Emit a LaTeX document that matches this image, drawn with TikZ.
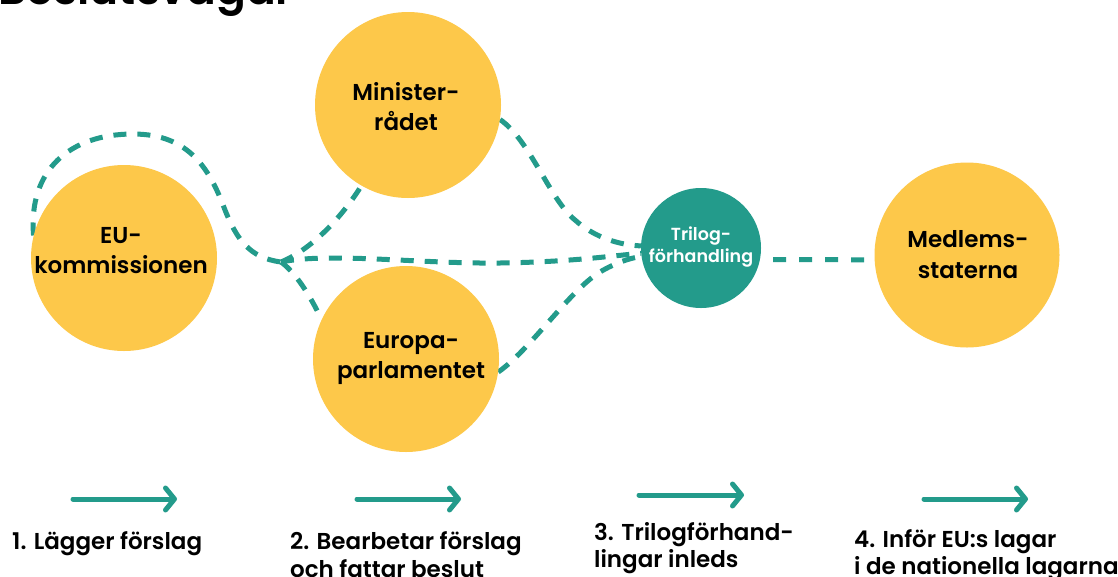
\documentclass[tikz,border=0pt]{standalone}
\usepackage{fontspec}
\newfontfamily\pf{Poppins SemiBold}
\usetikzlibrary{arrows.meta,backgrounds}
\definecolor{teal1}{RGB}{35,155,139}
\definecolor{sun}{RGB}{253,200,74}
\begin{document}
\begin{tikzpicture}[x=1pt,y=-1pt,
  bubble/.style={circle, fill=sun, draw=none, minimum size=186pt, inner sep=0pt},
  tribub/.style={circle, fill=teal1, draw=none, minimum size=120pt, inner sep=0pt},
  flow/.style={draw=teal1, line width=5pt, dash pattern=on 13pt off 11pt},
  txt/.style={font=\pf\fontsize{23}{27}\selectfont, anchor=base, inner sep=0pt},
  ttxt/.style={font=\pf\fontsize{17.5}{21}\selectfont, anchor=base, inner sep=0pt, text=white},
  steplbl/.style={font=\pf\fontsize{23}{27}\selectfont, anchor=base west, inner sep=0pt},
  steparrow/.style={draw=teal1, line width=5pt, line cap=round, -{Straight Barb[round, length=9pt, width=22pt]}}]
\useasboundingbox (0,0) rectangle (1118,576);

% title (cut off at the top)
\node[anchor=base west, font=\pf\fontsize{44}{50}\selectfont, inner sep=0pt] (title) at (-2,4) {Beslutsvägar};

% bubbles
\node[bubble] (eu) at (124,258) {};
\node[bubble] (min) at (408,105) {};
\node[bubble] (ep) at (406,359) {};
\node[tribub] (tri) at (701,248) {};
\node[bubble, minimum size=185pt] (med) at (967,255) {};
\coordinate (J) at (281,262);

% bubble texts
\node[txt] (eut1) at (121,243) {EU-};
\node[txt] (eut2) at (121,273) {kommissionen};
\node[txt] (mint1) at (406,100) {Minister-};
\node[txt] (mint2) at (406,130) {rådet};
\node[txt] (ept1) at (411,348) {Europa-};
\node[txt] (ept2) at (411,378) {parlamentet};
\node[ttxt] (trit1) at (701,240) {Trilog-};
\node[ttxt] (trit2) at (701,262) {förhandling};
\node[txt] (medt1) at (968,247) {Medlems-};
\node[txt] (medt2) at (968,278) {staterna};

% dashed connectors beneath the bubbles
\begin{pgfonlayer}{background}
\fill[white] (0,0) rectangle (1118,576);
\draw[flow] (eu.166) .. controls (28,170) and (70,134) .. (133,134)
  .. controls (190,134) and (210,170) .. (225,210)
  .. controls (237,240) and (250,258) .. (J);
\draw[flow] (J) .. controls (310,250) and (340,220) .. (min.240);
\draw[flow] (J) .. controls (330,252) and (420,264) .. (500,263)
  .. controls (570,262) and (610,256) .. (tri.185);
\draw[flow] (J) .. controls (295,272) and (310,295) .. (ep.155);
\draw[flow] (min.351) .. controls (530,140) and (550,200) .. (575,220)
  .. controls (595,238) and (620,245) .. (tri.178);
\draw[flow] (ep.352) .. controls (530,350) and (570,290) .. (600,272)
  .. controls (615,263) and (630,258) .. (tri.188);
\draw[flow, dash pattern=on 13pt off 13pt, dash phase=13pt] (tri.-11) -- (med.183);
\end{pgfonlayer}

% step arrows
\coordinate (a1s) at (73,499);  \coordinate (a1e) at (177,499);
\coordinate (a2s) at (357,499); \coordinate (a2e) at (461,499);
\coordinate (a3s) at (639,495); \coordinate (a3e) at (744,495);
\coordinate (a4s) at (924,499); \coordinate (a4e) at (1028,499);
\draw[steparrow] (a1s) -- (a1e);
\draw[steparrow] (a2s) -- (a2e);
\draw[steparrow] (a3s) -- (a3e);
\draw[steparrow] (a4s) -- (a4e);

% step labels
\node[steplbl] (s1) at (12,549) {1. Lägger förslag};
\node[steplbl] (s2a) at (290,549) {2. Bearbetar förslag};
\node[steplbl] (s2b) at (290,577) {och fattar beslut};
\node[steplbl] (s3a) at (594,540) {3. Trilogförhand-};
\node[steplbl] (s3b) at (594,567) {lingar inleds};
\node[steplbl] (s4a) at (854,547) {4. Inför EU:s lagar};
\node[steplbl] (s4b) at (854,574) {i de nationella lagarna};
\end{tikzpicture}
\end{document}
